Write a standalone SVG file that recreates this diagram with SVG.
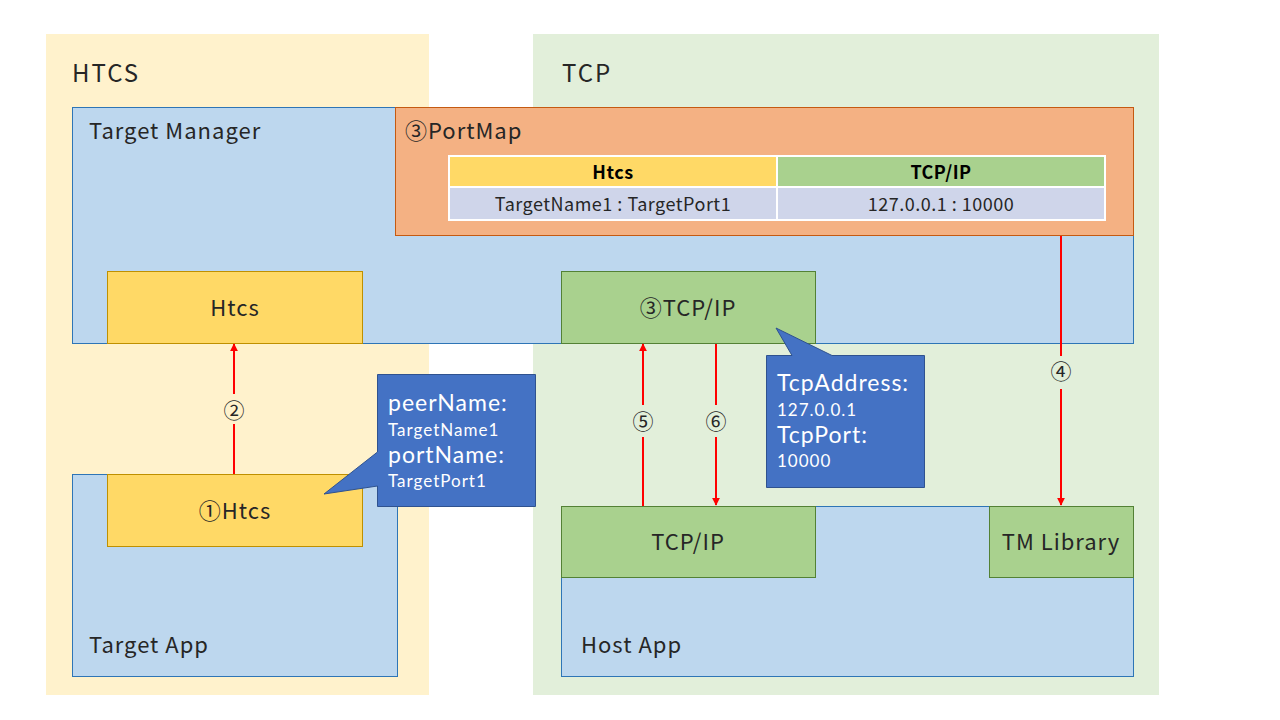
<svg xmlns="http://www.w3.org/2000/svg" width="1280" height="720" viewBox="0 0 1280 720">
<defs>
<marker id="ah" viewBox="0 0 10 10" refX="9" refY="5" markerWidth="8" markerHeight="8" orient="auto" markerUnits="userSpaceOnUse">
<path d="M0,0 L10,5 L0,10 z" fill="#FF0000"/>
</marker>
<style>
text{font-family:"Noto Sans CJK JP","Noto Sans",sans-serif;fill:#262626}
.big{font-size:24px;letter-spacing:2px}
.lbl{font-size:22px;letter-spacing:1px}
.mid{font-size:22px;letter-spacing:1px;text-anchor:middle;dominant-baseline:central}
.cw{fill:#FFFFFF;font-family:Lato,"Noto Sans",sans-serif}
.cl{font-size:23px;letter-spacing:1px}
.cs{font-size:17px;letter-spacing:1px}
.th{font-size:18px;font-weight:bold;letter-spacing:0.5px;text-anchor:middle;dominant-baseline:central;fill:#000}
.td{font-size:18px;letter-spacing:0.5px;text-anchor:middle;dominant-baseline:central}
.num{font-size:21px;text-anchor:middle;dominant-baseline:central}
.blue{fill:#BDD7EE;stroke:#2E75B6;stroke-width:1}
.yel{fill:#FFD966;stroke:#BF9000;stroke-width:1}
.grn{fill:#A9D18E;stroke:#538135;stroke-width:1}
.call{fill:#4472C4;stroke:#2F528F;stroke-width:1}
.arr{stroke:#FF0000;stroke-width:2;fill:none;marker-end:url(#ah)}
.ln{stroke:#FF0000;stroke-width:2;fill:none}
</style>
</defs>
<rect width="1280" height="720" fill="#FFFFFF"/>
<g id="region-htcs">
<rect x="46" y="34" width="383" height="661" fill="#FFF2CC"/>
<text class="big" x="72" y="82">HTCS</text>
</g>
<g id="region-tcp">
<rect x="533" y="34" width="626" height="661" fill="#E2EFDA"/>
<text class="big" x="562" y="82">TCP</text>
</g>
<g id="target-manager">
<rect class="blue" x="72.5" y="107.5" width="1061" height="236"/>
<text class="lbl" x="89" y="139">Target Manager</text>
</g>
<g id="portmap">
<rect x="395.5" y="107.5" width="738" height="128" fill="#F4B183" stroke="#C55A11" stroke-width="1"/>
<text class="lbl" x="405" y="139">③PortMap</text>
<rect x="449" y="156" width="328" height="30" fill="#FFD966"/>
<rect x="777" y="156" width="328" height="30" fill="#A9D18E"/>
<rect x="449" y="188" width="328" height="32" fill="#CFD5EA"/>
<rect x="777" y="188" width="328" height="32" fill="#CFD5EA"/>
<g stroke="#FFFFFF" stroke-width="2" fill="none">
<rect x="449" y="156" width="656" height="64"/>
<line x1="449" y1="187" x2="1105" y2="187"/>
<line x1="777" y1="156" x2="777" y2="220"/>
</g>
<text class="th" x="613" y="171">Htcs</text>
<text class="th" x="941" y="171">TCP/IP</text>
<text class="td" x="613" y="203">TargetName1 : TargetPort1</text>
<text class="td" x="941" y="203">127.0.0.1 : 10000</text>
</g>
<g id="tm-htcs">
<rect class="yel" x="107.5" y="271.5" width="255" height="72"/>
<text class="mid" x="235" y="306">Htcs</text>
</g>
<g id="tm-tcpip">
<rect class="grn" x="561.5" y="271.5" width="254" height="72"/>
<text class="mid" x="688" y="306">③TCP/IP</text>
</g>
<g id="target-app">
<rect class="blue" x="72.5" y="474.5" width="325" height="202"/>
<text class="lbl" x="89" y="653">Target App</text>
</g>
<g id="ta-htcs">
<rect class="yel" x="107.5" y="474.5" width="255" height="72"/>
<text class="mid" x="235" y="509">①Htcs</text>
</g>
<g id="host-app">
<rect class="blue" x="561.5" y="506.5" width="572" height="170"/>
<text class="lbl" x="581" y="653">Host App</text>
</g>
<g id="ha-tcpip">
<rect class="grn" x="561.5" y="506.5" width="254" height="71"/>
<text class="mid" x="688" y="540">TCP/IP</text>
</g>
<g id="tm-library">
<rect class="grn" x="989.5" y="506.5" width="144" height="71"/>
<text class="mid" x="1061" y="540">TM Library</text>
</g>
<g id="callout-peer">
<path class="call" d="M377.5,374.5 H535.5 V506.5 H377.5 V486 L324,494 L377.5,452 Z"/>
<text class="cl cw" x="388" y="411">peerName:</text>
<text class="cs cw" x="388" y="436">TargetName1</text>
<text class="cl cw" x="388" y="463">portName:</text>
<text class="cs cw" x="388" y="487">TargetPort1</text>
</g>
<g id="callout-tcp">
<path class="call" d="M766.5,355.5 H792 L776,328 L832,355.5 H924.5 V487.5 H766.5 Z"/>
<text class="cl cw" x="777" y="391">TcpAddress:</text>
<text class="cs cw" x="777" y="416">127.0.0.1</text>
<text class="cl cw" x="777" y="443">TcpPort:</text>
<text class="cs cw" x="777" y="467">10000</text>
</g>
<g id="connectors">
<line class="ln" x1="234" y1="474" x2="234" y2="424"/>
<line class="arr" x1="234" y1="394" x2="234" y2="344"/>
<text class="num" x="234" y="409">②</text>
<line class="ln" x1="643" y1="506" x2="643" y2="437"/>
<line class="arr" x1="643" y1="405" x2="643" y2="344"/>
<text class="num" x="643" y="420">⑤</text>
<line class="ln" x1="716" y1="344" x2="716" y2="405"/>
<line class="arr" x1="716" y1="437" x2="716" y2="505"/>
<text class="num" x="716" y="420">⑥</text>
<line class="ln" x1="1061" y1="236" x2="1061" y2="356"/>
<line class="arr" x1="1061" y1="389" x2="1061" y2="505"/>
<text class="num" x="1061" y="370">④</text>
</g>
</svg>
